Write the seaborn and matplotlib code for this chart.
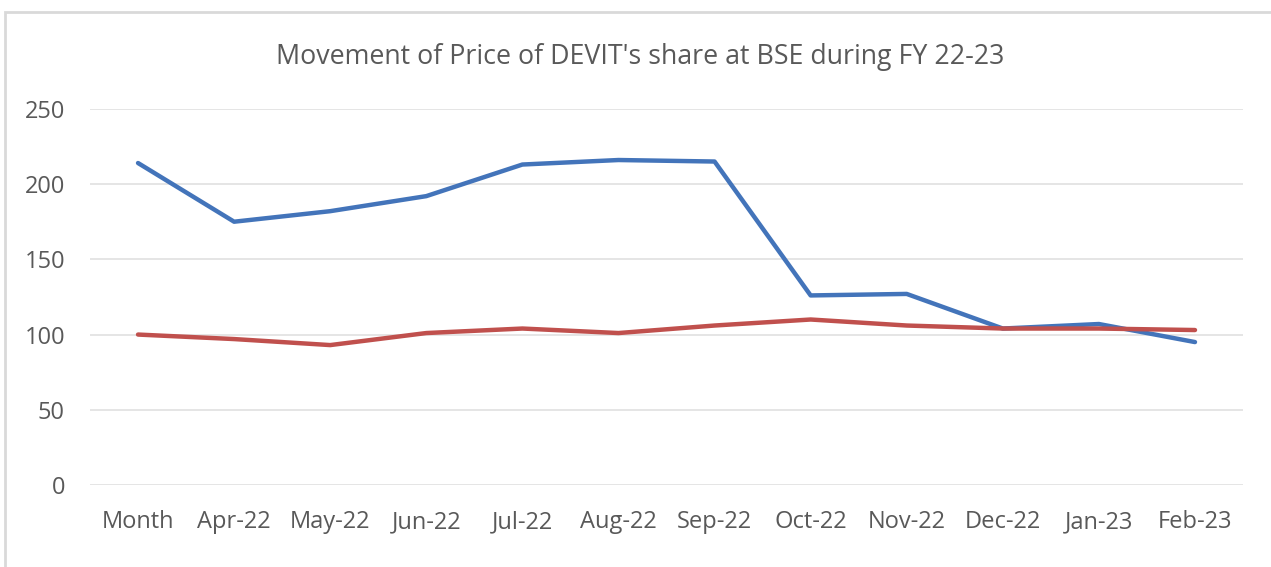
import matplotlib
matplotlib.use("Agg")
import matplotlib.pyplot as plt
import seaborn as sns
import pandas as pd
from matplotlib.patches import Rectangle

months = ["Month", "Apr-22", "May-22", "Jun-22", "Jul-22", "Aug-22", "Sep-22",
          "Oct-22", "Nov-22", "Dec-22", "Jan-23", "Feb-23"]
devit = [214, 175, 182, 192, 213, 216, 215, 126, 127, 104, 107, 95]
bse = [100, 97, 93, 101, 104, 101, 106, 110, 106, 104, 104, 103]
yticks = [0, 50, 100, 150, 200, 250]

sns.set_theme(style="whitegrid")
plt.rcParams['font.family'] = ['Open Sans', 'DejaVu Sans']

df = pd.DataFrame({"Month": months * 2,
                   "Price": devit + bse,
                   "Series": ["DEVIT"] * len(months) + ["BSE"] * len(months)})

fig = plt.figure(figsize=(12.71, 5.67), dpi=100)
ax = fig.add_axes([0.0708, 0.1446, 0.9072, 0.6634])

sns.lineplot(data=df, x="Month", y="Price", hue="Series", sort=False,
             palette={"DEVIT": "#4374BA", "BSE": "#C0504D"}, linewidth=3.2,
             legend=False, ax=ax)

ax.set_xlim(-0.5, len(months) - 0.5)
ax.set_ylim(0, 250)
ax.set_yticks(yticks)
ax.set_yticklabels([str(v) for v in yticks])
ax.set_xlabel("")
ax.set_ylabel("")
ax.grid(axis="x", visible=False)
ax.grid(axis="y", color="#e3e3e3", linewidth=1.3)
for s in ax.spines.values():
    s.set_visible(False)
ax.tick_params(axis="both", colors="#595959", labelsize=17, length=0)
ax.tick_params(axis="y", pad=18)
ax.tick_params(axis="x", pad=18)

fig.text(0.504, 0.90, "Movement of Price of DEVIT's share at BSE during FY 22-23",
         ha="center", va="center", fontsize=19.3, color="#595959")

# chart frame border
fig.add_artist(Rectangle((0.004, -0.1), 1.2, 0.9788 + 0.1, transform=fig.transFigure,
                         fill=False, edgecolor="#d9d9d9", linewidth=2))

fig.savefig("out.png", dpi=100)
